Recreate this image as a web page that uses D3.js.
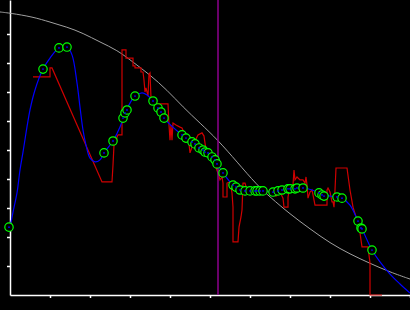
<!DOCTYPE html>
<html>
<head>
<meta charset="utf-8">
<script src="https://cdn.jsdelivr.net/npm/d3@7"></script>
<style>
  html, body { margin: 0; padding: 0; background: #000; overflow: hidden; }
  svg { display: block; }
</style>
</head>
<body>
<script>
// reference curve (gray)
var refX = [-2.5, 0, 5.75, 10, 14.25, 18.25, 22.5, 26.75, 30.75, 35, 39.25, 43.25, 47.5, 52, 56.75, 61.75, 65, 70, 75, 80, 85, 90, 95, 100];
var refY = [97.6, 97.2, 95.9, 94.1, 92.4, 90.3, 87.2, 84.5, 80.3, 75.9, 70.7, 64.8, 59.3, 53.4, 45.9, 37.9, 33.8, 27.9, 22.8, 17.9, 14.1, 10.9, 7.9, 5.5];

// raw signal (red)
var rawX = [5.75, 10, 10, 10.5, 23, 25.5, 25.75, 26, 26.5, 26.75, 27, 28, 28, 29, 29, 30.75, 30.75, 31.25, 31.25, 32.75, 32.75, 33.25,
            33.5, 33.75, 34, 34.5, 34.75, 35, 35.25, 35.75, 36.5, 39.5, 39.75, 40, 40.25, 40.5, 40.75, 41.5, 42.5, 43, 43.75, 44.5,
            45, 45.5, 46, 47, 48, 48.5, 49, 50, 50.75, 51.5, 52, 52.5, 53, 53.25, 53.25, 54.25, 54.25, 55, 55.5, 55.75,
            55.75, 57, 57.25, 57.75, 58, 58.25, 58.75, 59.25, 60, 61.25, 62.5, 63.75, 65, 65.75, 66.5, 67.5, 68.25, 68.5, 69.5, 69.5,
            70, 70.75, 71, 71.25, 71.75, 72.5, 73.25, 73.75, 74, 74.25, 74.5, 75, 75.5, 75.75, 76.25, 79.25, 79.25, 79.5, 80, 80.5,
            80.75, 81, 81.25, 81.5, 84.25, 85, 85.75, 86.75, 87.5, 88, 89.5, 90, 90, 93];
var rawY = [75.2, 75.2, 78.3, 78.3, 39.0, 39.0, 44.8, 51.7, 52.4, 54.5, 55.2, 55.2, 84.5, 84.5, 81.7, 81.7, 79.0, 79.0, 78.3, 78.3, 76.9, 76.9,
            74.1, 70.0, 71.4, 68.6, 76.2, 76.6, 67.9, 67.2, 65.9, 65.9, 58.6, 53.4, 58.6, 53.4, 59.3, 58.6, 57.9, 57.6, 55.2, 55.2,
            49.0, 51.0, 52.4, 55.2, 55.9, 54.8, 50.0, 49.0, 46.6, 43.8, 42.1, 39.7, 40.7, 38.6, 33.8, 33.8, 38.6, 39.0, 35.2, 30.3,
            18.3, 18.3, 23.4, 26.9, 29.3, 38.6, 38.6, 36.2, 35.2, 35.5, 35.2, 36.2, 35.2, 35.5, 34.1, 35.5, 33.4, 30.3, 30.3, 33.8,
            37.2, 37.9, 43.1, 39.7, 40.7, 39.7, 39.7, 38.6, 40.7, 37.9, 33.4, 35.5, 36.2, 34.5, 31.0, 31.0, 36.2, 36.9, 35.5, 32.1,
            32.1, 30.3, 36.2, 43.8, 43.8, 36.2, 30.3, 25.9, 21.4, 16.6, 16.6, 11.0, 0, 0];

// fitted curve (blue)
var fitX = [-0.25, 0.25, 0.75, 1.75, 2.5, 3.25, 5, 6.25, 8.25, 10, 12.25, 14.25, 15.5, 16.75, 17.5, 18.25, 19, 20, 21.25, 22.5,
            23.5, 25.75, 27.5, 28.75, 31.25, 33, 34.25, 35.75, 38.5, 43, 46.25, 49.5, 51.75, 53.25, 55.75, 57.5, 60, 63.25, 65.75, 68,
            71.25, 73.25, 75.5, 77.25, 80, 83, 85, 87, 88, 90.5, 92.5, 95, 97.5, 100];
var fitY = [23.4, 25.2, 28.6, 35.2, 43.1, 49.3, 63.8, 70.7, 77.9, 81.7, 85.2, 85.5, 82.8, 73.1, 64.8, 56.9, 51.7, 47.2, 45.9, 46.6,
            49.0, 53.1, 57.9, 62.8, 68.6, 69.7, 69.0, 66.9, 61.0, 55.2, 52.1, 49.0, 45.2, 42.1, 37.9, 36.2, 35.9, 35.9, 35.5, 36.2,
            36.6, 36.9, 36.2, 35.2, 34.1, 33.4, 31.0, 25.5, 22.8, 15.5, 11.4, 7.2, 3.8, 0.7];

// samples (green)
var sampleX = [-0.25, 8.25, 12.25, 14.25, 23.5, 25.75, 28.25, 28.75, 29.25, 31.25, 35.75, 37, 37.75, 38.5, 43, 44, 45.5, 46.25, 47.25, 48.25,
               48.75, 49.5, 50.5, 51.25, 51.75, 53.25, 55.75, 56.5, 57.5, 58.75, 60, 61.25, 61.75, 62.5, 63.25, 65.75, 67, 68, 69.5, 70,
               71.25, 71.75, 73.25, 77.25, 78, 78.5, 81.75, 83, 87, 87.75, 88, 90.5];
var sampleY = [23.4, 77.9, 85.2, 85.5, 49.0, 53.1, 61.0, 62.8, 63.8, 68.6, 66.9, 64.5, 63.1, 61.0, 55.2, 54.1, 52.8, 52.1, 50.7, 50.0,
               49.3, 49.0, 47.6, 46.6, 45.2, 42.1, 37.9, 37.2, 36.2, 35.9, 35.9, 35.9, 35.9, 35.9, 35.9, 35.5, 35.9, 36.2, 36.6, 36.6,
               36.6, 36.9, 36.9, 35.2, 34.5, 34.1, 33.8, 33.4, 25.5, 23.1, 22.8, 15.5];

var markerX = 52;
var xTicks = [10, 20, 30, 40, 50, 60, 70, 80, 90, 100];
var yTicks = [10, 20, 30, 40, 50, 60, 70, 80, 90];

var width = 410, height = 310;

var svgContainer = d3.select("body").append("svg")
  .attr("width", width)
  .attr("height", height)
  .style("background", "#000");

var x = d3.scaleLinear().domain([0, 100]).range([10, 410]);
var y = d3.scaleLinear().domain([0, 295 / 2.9]).range([295, 0]);

// axes
svgContainer.append("g")
  .attr("transform", "translate(0,295)")
  .call(d3.axisBottom(x).tickValues(xTicks).tickSize(3).tickSizeOuter(0).tickFormat(""));
svgContainer.append("g")
  .attr("transform", "translate(10,0)")
  .call(d3.axisLeft(y).tickValues(yTicks).tickSize(3).tickSizeOuter(0).tickFormat(""));
svgContainer.selectAll(".domain, .tick line")
  .attr("stroke", "#fff")
  .attr("stroke-width", 1.5);

function pts(xs, ys) {
  return xs.map(function(d, i) { return [d, ys[i]]; });
}

var line = d3.line()
  .x(function(d) { return x(d[0]); })
  .y(function(d) { return y(d[1]); });

svgContainer.append("path")
  .attr("d", line.curve(d3.curveBasis)(pts(refX, refY)))
  .attr("fill", "none")
  .attr("stroke", "#a0a0a0")
  .attr("stroke-width", 1);

svgContainer.append("path")
  .attr("d", line.curve(d3.curveLinear)(pts(rawX, rawY)))
  .attr("fill", "none")
  .attr("stroke", "#d00000")
  .attr("stroke-width", 1.2);

svgContainer.append("path")
  .attr("d", line.curve(d3.curveCatmullRom)(pts(fitX, fitY)))
  .attr("fill", "none")
  .attr("stroke", "#0000ff")
  .attr("stroke-width", 1.2);

svgContainer.append("line")
  .attr("x1", x(markerX)).attr("x2", x(markerX))
  .attr("y1", 0).attr("y2", 295)
  .attr("stroke", "#8e008e")
  .attr("stroke-width", 1.5);

var samples = pts(sampleX, sampleY);
svgContainer.selectAll("circle.s")
  .data(samples)
  .enter().append("circle")
  .attr("class", "s")
  .attr("cx", function(d) { return x(d[0]); })
  .attr("cy", function(d) { return y(d[1]); })
  .attr("r", 4.2)
  .attr("fill", "#000")
  .attr("stroke", "#00ff00")
  .attr("stroke-width", 1.2);

svgContainer.selectAll("circle.c")
  .data(samples)
  .enter().append("circle")
  .attr("class", "c")
  .attr("cx", function(d) { return x(d[0]); })
  .attr("cy", function(d) { return y(d[1]); })
  .attr("r", 0.9)
  .attr("fill", "#0000ff");
</script>
</body>
</html>
